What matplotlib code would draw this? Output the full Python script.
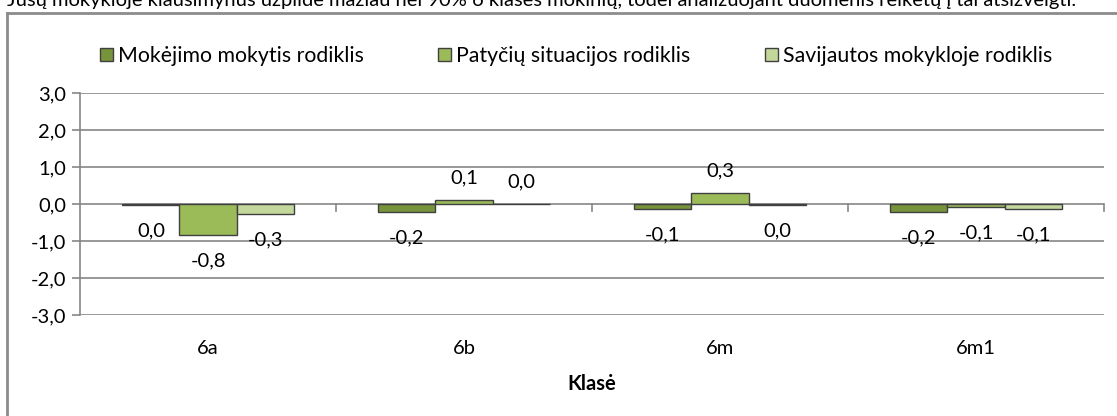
import numpy as np
import matplotlib
matplotlib.use("Agg")
import matplotlib.pyplot as plt
from matplotlib.patches import Patch
from matplotlib.lines import Line2D

# --- data ---
classes = ['6a', '6b', '6m', '6m1']
series_names = ['Mokėjimo mokytis rodiklis', 'Patyčių situacijos rodiklis', 'Savijautos mokykloje rodiklis']
mokejimo = [-0.02, -0.22, -0.14, -0.22]
patyciu = [-0.84, 0.11, 0.29, -0.07]
savijautos = [-0.27, 0.01, -0.03, -0.14]
yticks = [3, 2, 1, 0, -1, -2, -3]
note = ('Jūsų mokykloje klausimynus užpildė mažiau nei 90% 6 klasės mokinių, '
        'todėl analizuojant duomenis reikėtų į tai atsižvelgti.')

colors = ['#77933C', '#9BBB59', '#C3D69B']
edge = '#404040'
grid_c = '#868686'

plt.rcParams['font.family'] = ['Lato', 'DejaVu Sans']
fs = 14.5

W, H = 1117, 416
fig = plt.figure(figsize=(W / 100, H / 100), dpi=100)
ax = fig.add_axes([80 / W, 1 - 315 / H, 1024 / W, 222 / H])

x = np.arange(len(classes))
bw = 0.223
all_series = [mokejimo, patyciu, savijautos]
for i, (vals, col, name) in enumerate(zip(all_series, colors, series_names)):
    pos = x + (i - 1) * bw
    ax.bar(pos, vals, bw, color=col, edgecolor=edge, linewidth=1.0, label=name, zorder=3)
    for xp, v in zip(pos, vals):
        txt = f"{round(v, 1) + 0.0:.1f}".replace('.', ',')
        off = 22 if v >= 0 else -26
        ax.annotate(txt, (xp, v), xytext=(0, off), textcoords='offset pixels',
                    ha='center', va='center', fontsize=fs, color='black', zorder=4)

ax.set_xlim(-0.5, len(classes) - 0.5)
ax.set_ylim(-3, 3)
ax.set_yticks(yticks)
ax.set_yticklabels([f"{t:.1f}".replace('.', ',') for t in yticks], fontsize=fs)
for t in yticks:
    ax.axhline(t, color=grid_c, linewidth=1.2, zorder=1)

# category boundary ticks on the zero line
for b in np.arange(0.5, len(classes), 1.0):
    ax.plot([b, b], [0, -0.19], color=grid_c, linewidth=1.2, zorder=1, clip_on=False)

ax.set_xticks(x)
ax.set_xticklabels(classes, fontsize=fs)
ax.tick_params(axis='x', length=0, pad=18)
ax.tick_params(axis='y', length=6, width=1.2, color=grid_c, pad=4)
for s in ['top', 'right', 'bottom']:
    ax.spines[s].set_visible(False)
ax.spines['left'].set_color(grid_c)
ax.spines['left'].set_linewidth(1.2)

fig.text(592 / W, 1 - 384 / H, 'Klasė', ha='center', va='center', fontsize=fs, fontweight='bold')

handles = [Patch(facecolor=c, edgecolor=edge, linewidth=1.0) for c in colors]
fig.legend(handles, series_names, loc='center', bbox_to_anchor=(576 / W, 1 - 56 / H),
           ncol=3, frameon=False, fontsize=15.3, handlelength=0.6, handleheight=0.6,
           handletextpad=0.25, columnspacing=3.5)

# chart border (only top and left visible in the reference)
fig.add_artist(Line2D([7 / W, 7 / W], [0, 1 - 13 / H], color='#8c8c8c', linewidth=2))
fig.add_artist(Line2D([7 / W, 1], [1 - 13 / H, 1 - 13 / H], color='#8c8c8c', linewidth=2))

fig.text(7 / W, 1 - 6 / H, note, ha='left', va='baseline', fontsize=14.5)

fig.savefig('out.png', dpi=100)
